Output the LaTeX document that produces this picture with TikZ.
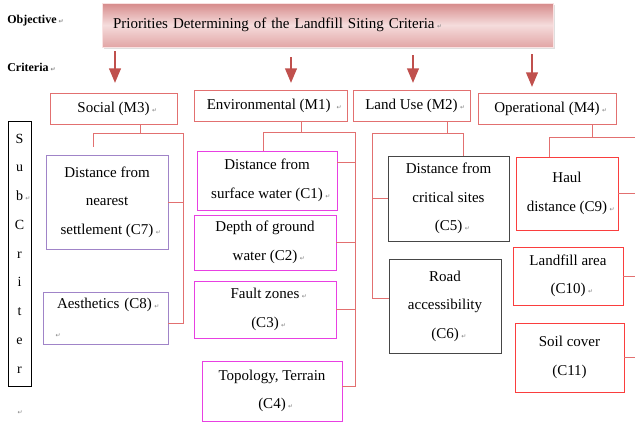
\documentclass[tikz,border=0pt]{standalone}
\usepackage{fontspec}
\setmainfont{Liberation Serif}
\newfontfamily\markfont{DejaVu Sans}
\usetikzlibrary{arrows,shadows}

\definecolor{rosered}{RGB}{226,112,112}
\definecolor{arrred}{RGB}{192,80,77}
\definecolor{magentab}{RGB}{232,64,226}
\definecolor{lavender}{RGB}{160,132,200}
\definecolor{darkbox}{RGB}{70,70,70}
\definecolor{redbox}{RGB}{250,62,62}
\definecolor{titletop}{RGB}{214,138,138}
\definecolor{titlemid}{RGB}{245,220,220}
\definecolor{titlebot}{RGB}{226,166,166}

\newcommand{\retmark}{\rlap{\,{\markfont\fontsize{6}{6}\selectfont\textcolor{gray}{↵}}}}

\begin{document}
\begin{tikzpicture}[x=1pt,y=-1pt,>=triangle 45,semithick,
  font=\fontsize{15}{28.5}\selectfont]
  \tikzstyle{crit}=[draw=rosered,thin,minimum height=31pt,inner sep=0pt]
  \tikzstyle{sub}=[thin,align=center,inner sep=0pt]
  \tikzstyle{socsub}=[sub,draw=lavender]
  \tikzstyle{envsub}=[sub,draw=magentab]
  \tikzstyle{lusub}=[sub,draw=darkbox]
  \tikzstyle{opsub}=[sub,draw=redbox,semithick]
  \tikzstyle{link}=[draw=rosered,thin]
  \tikzstyle{arr}=[->,draw=arrred,line width=2.4pt]
  \tikzstyle{side}=[anchor=west,inner sep=0pt,font=\fontsize{12}{14}\selectfont\bfseries]

  \useasboundingbox (0,0) rectangle (635,423);
  \clip (0,0) rectangle (635,423);

  % objective
  \node[side] (objlbl) at (7,21) {Objective\retmark};
  \node[side] (critlbl) at (7,67) {Criteria\retmark};
  \node[draw=white!80!rosered,top color=titletop,bottom color=titlebot,
    middle color=titlemid,drop shadow={opacity=0.25},minimum width=451pt,
    minimum height=44pt,text width=429pt,align=left,inner sep=0pt]
    (title) at (327.5,25)
    {\raisebox{4pt}{Priorities Determining of the Landfill Siting Criteria\retmark}};

  % criteria
  \node[crit,minimum width=127pt] (soc) at (113.5,108.5) {Social (M3)\retmark};
  \node[crit,minimum width=153pt] (env) at (270.5,105.5) {Environmental (M1) \retmark};
  \node[crit,minimum width=117pt] (lu)  at (411.5,105.5) {Land Use (M2)\retmark};
  \node[crit,minimum width=138pt] (op)  at (547,108.5) {Operational (M4)\retmark};

  \draw[arr,shorten <=4pt,shorten >=10pt] (title.south -| 115,0) -- (soc.north -| 115,0);
  \draw[arr,shorten <=10pt,shorten >=7pt] (title.south -| 291,0) -- (env.north -| 291,0);
  \draw[arr,shorten <=8pt,shorten >=7pt] (title.south -| 413,0) -- (lu.north -| 413,0);
  \draw[arr,shorten <=7pt,shorten >=6pt] (title.south -| 532,0) -- (op.north -| 532,0);

  % sub criteria
  \node[draw,line width=1pt,minimum width=23pt,minimum height=265pt,align=center,
    inner sep=0pt,font=\fontsize{14}{28.75}\selectfont] (subcrit) at (19.5,253.5)
    {S\\u\\b\retmark\\C\\r\\i\\t\\e\\r};
  \node[inner sep=0pt] (endmark) at (15,413) {\retmark};

  \node[socsub,minimum width=122pt,minimum height=94pt] (c7) at (107,202)
    {Distance from\\nearest\\settlement (C7)\retmark};
  \node[socsub,minimum width=125pt,minimum height=52pt,text width=105pt,align=left]
    (c8) at (105.5,318) {\hspace*{4pt}Aesthetics (C8)\retmark\\\retmark};

  \node[envsub,minimum width=140pt,minimum height=59pt] (c1) at (267,180.5)
    {Distance from\\surface water (C1)\retmark};
  \node[envsub,minimum width=142pt,minimum height=55pt] (c2) at (265,242.5)
    {Depth of ground\\water (C2)\retmark};
  \node[envsub,minimum width=142pt,minimum height=57pt] (c3) at (265,309.5)
    {Fault zones\retmark\\(C3)\retmark};
  \node[envsub,minimum width=140pt,minimum height=60pt] (c4) at (272,391)
    {Topology, Terrain\\(C4)\retmark};

  \node[lusub,minimum width=121pt,minimum height=85pt] (c5) at (448.5,198.5)
    {Distance from\\critical sites\\(C5)\retmark};
  \node[lusub,minimum width=112pt,minimum height=94pt] (c6) at (445,306)
    {Road\\accessibility\\(C6)\retmark};

  \node[opsub,minimum width=102pt,minimum height=73pt] (c9) at (567,193.5)
    {Haul\\distance (C9)\retmark};
  \node[opsub,minimum width=110pt,minimum height=58pt] (c10) at (568,276)
    {Landfill area\\(C10)\retmark};
  \node[opsub,minimum width=109pt,minimum height=69pt] (c11) at (569.5,357.5)
    {Soil cover\\(C11)};

  % social links
  \coordinate (socJ) at (140,133);
  \coordinate (socL) at (93,133);
  \coordinate (socR) at (183,133);
  \draw[link] (soc.south -| socJ) -- (socJ);
  \draw[link] (socL) -- (socR) |- ([yshift=-5pt]c8.east);
  \draw[link] (socL) -- ++(0,14);
  \draw[link] (c7.east) -- (c7.east -| socR);

  % environmental links
  \coordinate (envJ) at (301,132);
  \coordinate (envL) at (263,132);
  \coordinate (envR) at (355,132);
  \draw[link] (env.south -| envJ) -- (envJ);
  \draw[link] (envL) -- (envR) |- ([yshift=5pt]c4.east);
  \draw[link] (envL) -- (envL |- c1.north);
  \draw[link] ([yshift=18pt]c1.east) -- ([yshift=18pt]c1.east -| envR);
  \draw[link] (c2.east) -- (c2.east -| envR);
  \draw[link] (c3.east) -- (c3.east -| envR);

  % land use links
  \coordinate (luJ) at (447,133);
  \coordinate (luL) at (372,133);
  \coordinate (luR) at (463,133);
  \draw[link] (lu.south -| luJ) -- (luJ);
  \draw[link] (luR) -- (luL) |- ([yshift=8pt]c6.west);
  \draw[link] (luR) -- (luR |- c5.north);
  \draw[link] (c5.west) -- (c5.west -| luL);

  % operational links
  \coordinate (opJ) at (592,137);
  \coordinate (opL) at (549,137);
  \coordinate (opR) at (636,137);
  \draw[link] (op.south -| opJ) -- (opJ);
  \draw[link] (opL) -- (opR) |- (c11.east);
  \draw[link] (opL) -- (opL |- c9.north);
  \draw[link] (c9.east) -- (c9.east -| opR);
  \draw[link] (c10.east) -- (c10.east -| opR);
\end{tikzpicture}
\end{document}
